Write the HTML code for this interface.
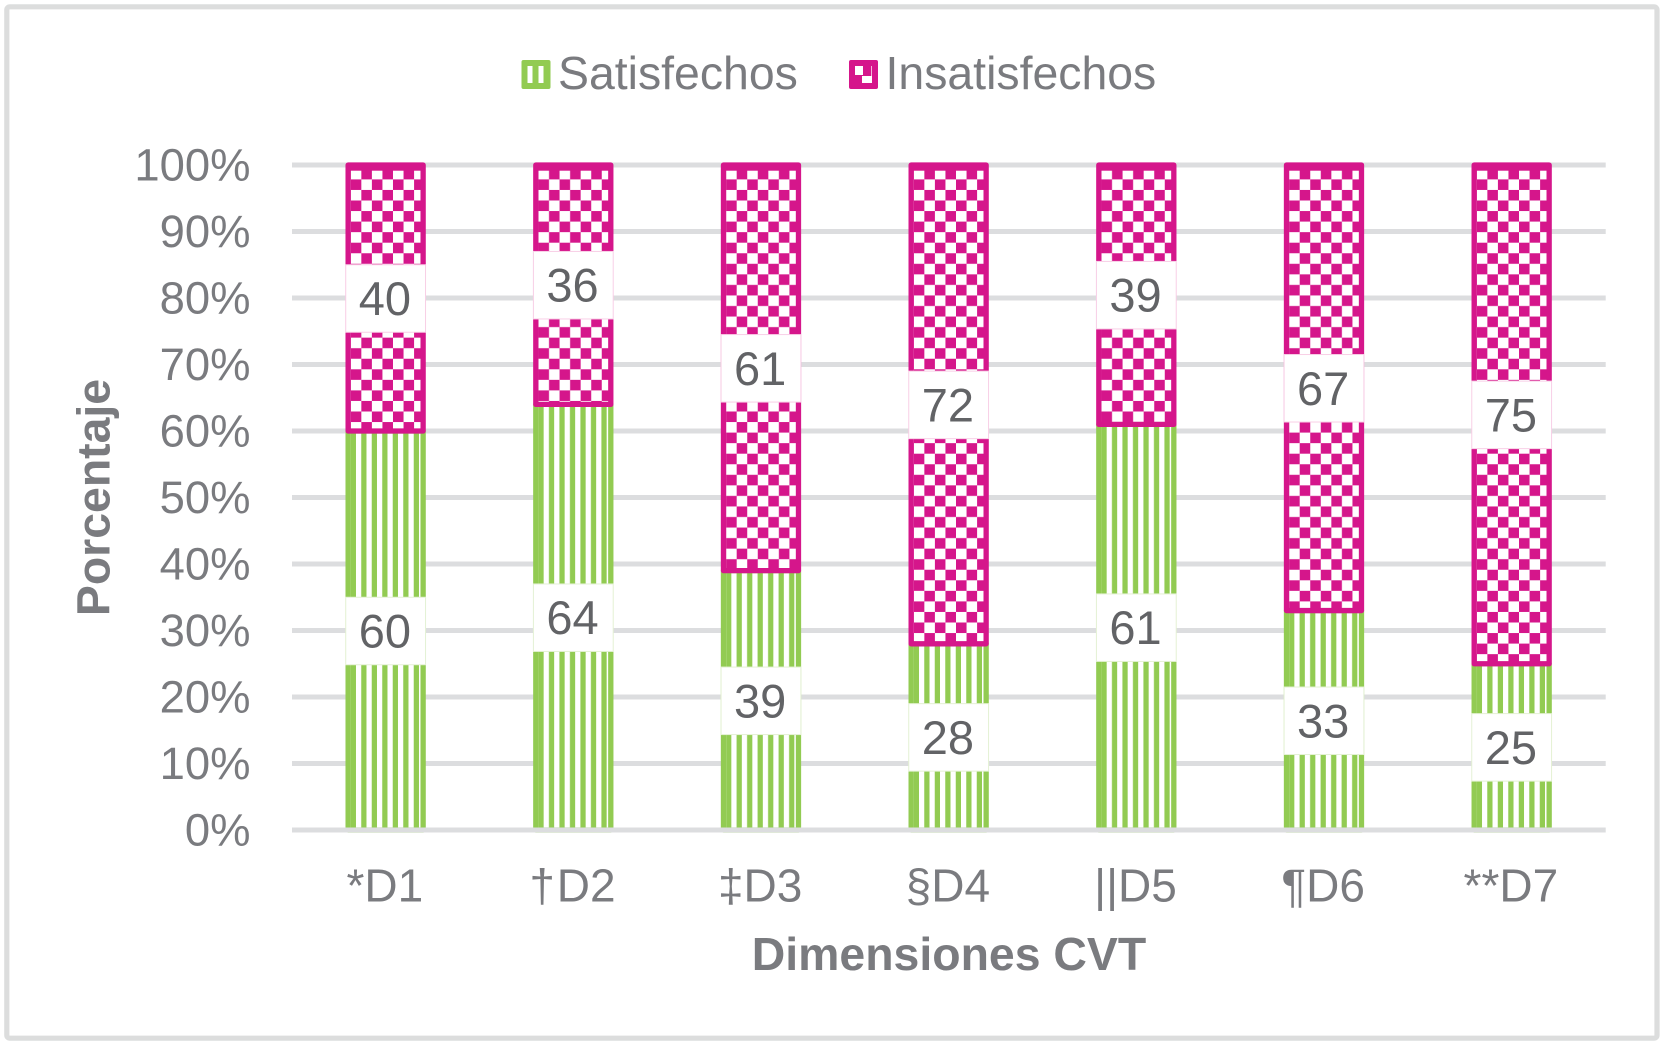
<!DOCTYPE html>
<html lang="es">
<head>
<meta charset="utf-8">
<title>Dimensiones CVT</title>
<style>
html,body{margin:0;padding:0;background:#fff;width:1664px;height:1045px;overflow:hidden}
svg{display:block}
text{font-family:"Liberation Sans",Arial,sans-serif}
</style>
</head>
<body>
<svg id="chart" xmlns="http://www.w3.org/2000/svg" width="1664" height="1045" viewBox="0 0 1664 1045">
  <defs id="defs"></defs>
  <rect x="6.8" y="6.8" width="1650.2" height="1031.4" rx="3" fill="#fff" stroke="#dcdddd" stroke-width="5.2"/>

  <g>
    <g>
      <rect x="521.5" y="60" width="29" height="29" rx="2" fill="#92cb52"/>
      <rect x="527.5" y="66" width="5" height="17" fill="#fff"/>
      <rect x="538.5" y="66" width="5" height="17" fill="#fff"/>
      <text x="558" y="89" font-size="46.4" fill="#7a7b7f">Satisfechos</text>
    </g>
    <g>
      <rect x="849" y="60" width="29" height="29" rx="2" fill="#d5168b"/>
      <rect x="855" y="66" width="8" height="9" fill="#fff"/>
      <rect x="862" y="76" width="10" height="7" fill="#fff"/>
      <rect x="871" y="66" width="1" height="10" fill="#f3b5da"/>
      <text x="885.5" y="89" font-size="46.4" fill="#7a7b7f">Insatisfechos</text>
    </g>
  </g>

  <g id="grid"></g>
  <g id="yticks"></g>
  <g id="bars"></g>
  <g id="axisline"></g>
  <g id="labels"></g>
  <g id="xticks"></g>

  <text x="949" y="970" font-size="46.4" font-weight="bold" fill="#7a7b7f" text-anchor="middle">Dimensiones CVT</text>
  <text transform="translate(109.5 497.5) rotate(-90)" font-size="46.4" font-weight="bold" fill="#7a7b7f" text-anchor="middle">Porcentaje</text>
</svg>

<script>
const categories = ['*D1', '† D2', '‡D3', '§D4', '||D5', '¶D6', '**D7'];
const satisfechos = [60, 64, 39, 28, 61, 33, 25];
const insatisfechos = [40, 36, 61, 72, 39, 67, 75];
const yTickValues = [0, 10, 20, 30, 40, 50, 60, 70, 80, 90, 100];

const NS = 'http://www.w3.org/2000/svg';
const GREEN = '#92cb52';
const MAGENTA = '#d5168b';
const plotLeft = 292;
const plotRight = 1605.7;
const plotBottom = 830;
const plotTop = 165;
const barWidth = 75;
const strokeW = 5.3;
const labelH = 67.5;
const period = 10.55;

function yScale(pct) {
  return plotBottom - (plotBottom - plotTop) * pct / 100;
}
function xCenter(i) {
  return plotLeft + (plotRight - plotLeft) * (i + 0.5) / categories.length;
}
function mk(tag, attrs, parent) {
  const el = document.createElementNS(NS, tag);
  for (const k in attrs) el.setAttribute(k, attrs[k]);
  parent.appendChild(el);
  return el;
}

const defs = document.getElementById('defs');
const gridG = document.getElementById('grid');
const yticksG = document.getElementById('yticks');
const barsG = document.getElementById('bars');
const axisG = document.getElementById('axisline');
const labelsG = document.getElementById('labels');
const xticksG = document.getElementById('xticks');

yTickValues.forEach(function (v) {
  const y = yScale(v);
  if (v !== 0) {
    const line = mk('line', {x1: plotLeft, x2: plotRight, y1: y, y2: y, stroke: '#dcdddf', 'stroke-width': 5}, gridG);
    
    
  }
  const t = mk('text', {x: 250.5, y: y + 15.5, 'font-size': 45.4, fill: '#7a7b7f', 'text-anchor': 'end'}, yticksG);
  t.textContent = v + '%';
  
  
});

function addLabel(cx, yMid, value, edge) {
  const box = mk('rect', {x: cx - 39.9, y: yMid - labelH / 2 + 0.5, width: 79.8, height: labelH, fill: '#fff', stroke: edge, 'stroke-width': 1}, labelsG);
  
  
  const t = mk('text', {x: cx - 0.8, y: yMid + 17, 'font-size': 47, fill: '#626366', 'text-anchor': 'middle'}, labelsG);
  t.textContent = value;
  
  
}

categories.forEach(function (cat, i) {
  const cx = xCenter(i);
  const left = cx - barWidth / 2 - 0.2;
  const outerLeft = left - strokeW / 2;
  const total = satisfechos[i] + insatisfechos[i];
  const satPct = satisfechos[i] / total * 100;
  const ySplit = yScale(satPct);
  const yFull = yScale(100);

  // stripe pattern
  const pg = mk('pattern', {id: 'stripes' + i, patternUnits: 'userSpaceOnUse', x: outerLeft, y: 0, width: 10.5, height: 20}, defs);
  mk('rect', {x: 0, y: 0, width: 10.5, height: 20, fill: GREEN}, pg);
  mk('rect', {x: 0, y: 0, width: 5.25, height: 20, fill: '#fff'}, pg);

  // checker pattern
  const pm = mk('pattern', {id: 'checks' + i, patternUnits: 'userSpaceOnUse', x: left + 2.65, y: yFull + 3.85, width: period * 2, height: period * 2}, defs);
  mk('rect', {x: 0, y: 0, width: period * 2, height: period * 2, fill: MAGENTA}, pm);
  mk('rect', {x: 0, y: 0, width: period, height: period, fill: '#fff'}, pm);
  mk('rect', {x: period, y: period, width: period, height: period, fill: '#fff'}, pm);

  const g = mk('rect', {x: left, y: ySplit, width: barWidth, height: plotBottom - ySplit, fill: 'url(#stripes' + i + ')', stroke: GREEN, 'stroke-width': strokeW, 'stroke-linejoin': 'round'}, barsG);
  
  

  const m = mk('rect', {x: left, y: yFull, width: barWidth, height: ySplit - yFull, fill: 'url(#checks' + i + ')', stroke: MAGENTA, 'stroke-width': strokeW, 'stroke-linejoin': 'round'}, barsG);
  
  

  const band = mk('rect', {x: left, y: yFull, width: barWidth, height: 5.7, fill: MAGENTA}, barsG);
  
  

  addLabel(cx - 0.2, yScale(satPct / 2), satisfechos[i], '#e4f1d4');
  addLabel(cx - 0.2, yScale(satPct + (100 - satPct) / 2), insatisfechos[i], '#f8cfe6');

  const t = mk('text', {x: cx - 1, y: 901.7, 'font-size': 46, 'word-spacing': -11, fill: '#7a7b7f', 'text-anchor': 'middle'}, xticksG);
  t.textContent = cat;
  
  
});

const zero = mk('line', {x1: plotLeft, x2: plotRight, y1: yScale(0), y2: yScale(0), stroke: '#dcdddf', 'stroke-width': 5}, axisG);


</script>
</body>
</html>
